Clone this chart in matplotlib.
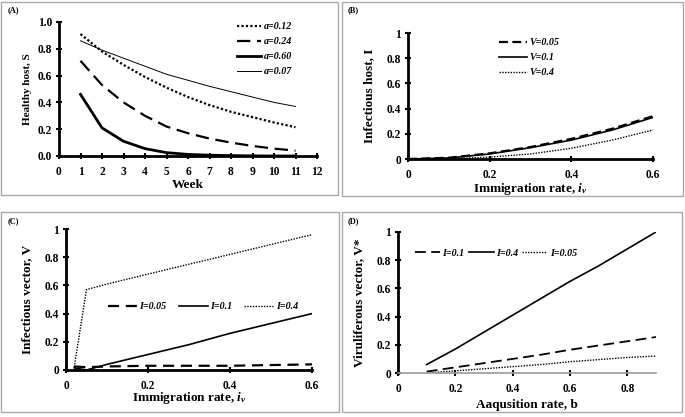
import matplotlib.pyplot as plt
from matplotlib.patches import Rectangle
import numpy as np

plt.rcParams['font.family'] = ['Liberation Serif', 'DejaVu Serif']
plt.rcParams['font.weight'] = 'bold'
plt.rcParams['mathtext.fontset'] = 'custom'
plt.rcParams['mathtext.rm'] = 'Liberation Serif:bold'
plt.rcParams['mathtext.it'] = 'Liberation Serif:bold:italic'

# (A) healthy host over weeks
weeks = [1, 2, 3, 4, 5, 6, 7, 8, 9, 10, 11]
s_a012 = [0.91, 0.78, 0.68, 0.59, 0.51, 0.44, 0.38, 0.33, 0.29, 0.25, 0.215]
s_a024 = [0.71, 0.53, 0.40, 0.30, 0.22, 0.17, 0.13, 0.10, 0.075, 0.055, 0.04]
s_a060 = [0.46, 0.21, 0.11, 0.055, 0.025, 0.012, 0.006, 0.003, 0.001, 0.0, 0.0]
s_a007 = [0.86, 0.79, 0.73, 0.67, 0.61, 0.565, 0.52, 0.48, 0.44, 0.40, 0.37]

# (B) infectious host vs immigration rate
iv_b = [0.0, 0.1, 0.2, 0.3, 0.4, 0.5, 0.6]
i_v005 = [0.0, 0.01, 0.045, 0.095, 0.16, 0.24, 0.34]
i_v01 = [0.0, 0.008, 0.04, 0.09, 0.15, 0.23, 0.33]
i_v04 = [0.0, 0.002, 0.015, 0.04, 0.085, 0.15, 0.23]

# (C) infectious vector vs immigration rate
iv_c = [0.02, 0.05, 0.1, 0.2, 0.3, 0.4, 0.5, 0.6]
v_i005 = [0.025, 0.02, 0.025, 0.03, 0.03, 0.03, 0.035, 0.04]
v_i01 = [0.015, 0.0, 0.04, 0.11, 0.18, 0.26, 0.33, 0.40]
v_i04 = [0.02, 0.57, 0.61, 0.68, 0.75, 0.82, 0.89, 0.96]

# (D) viruliferous vector vs acquisition rate
b_d = [0.1, 0.2, 0.3, 0.4, 0.5, 0.6, 0.7, 0.8, 0.9]
vs_i01 = [0.01, 0.04, 0.07, 0.10, 0.13, 0.165, 0.195, 0.225, 0.255]
vs_i04 = [0.06, 0.17, 0.29, 0.41, 0.53, 0.65, 0.76, 0.88, 1.0]
vs_i005 = [0.0, 0.015, 0.03, 0.045, 0.06, 0.08, 0.095, 0.11, 0.12]

W, H = 685, 417
fig = plt.figure(figsize=(W / 100, H / 100), dpi=100)


def px_axes(x0, y0, x1, y1):
    return fig.add_axes([x0 / W, 1 - y1 / H, (x1 - x0) / W, (y1 - y0) / H])


def frame(x0, y0, x1, y1):
    fig.patches.append(Rectangle((x0 / W, 1 - y1 / H), (x1 - x0) / W, (y1 - y0) / H,
                                 transform=fig.transFigure, fill=False,
                                 edgecolor='#aaaaaa', lw=1.0))


def style(ax):
    for s in ['top', 'right']:
        ax.spines[s].set_visible(False)
    for s in ['left', 'bottom']:
        ax.spines[s].set_linewidth(2.0)
    ax.tick_params(direction='inout', length=4, width=1.5, labelsize=8.3)
    ax.tick_params(axis='x', pad=5)
    ax.tick_params(axis='y', pad=3)
    for lab in ax.get_xticklabels() + ax.get_yticklabels():
        lab.set_fontweight('bold')


frame(1, 2, 338, 195)
frame(342, 2, 683, 196)
frame(1, 212, 339, 412)
frame(342, 212, 682, 412)

leg_font = {'style': 'italic', 'weight': 'bold', 'size': 7.2}
lab_size = 9.5
leg_kw = dict(frameon=False, prop=leg_font, borderpad=0, borderaxespad=0)

# panel A
ax = px_axes(59, 22, 317, 156)
ax.plot(weeks, s_a012, color='black', lw=1.6, ls=(0, (1, 1)), label='a=0.12')
ax.plot(weeks, s_a024, color='black', lw=1.6, ls=(0, (6, 3)), label='a=0.24')
ax.plot(weeks, s_a060, color='black', lw=2.0, label='a=0.60')
ax.plot(weeks, s_a007, color='black', lw=0.7, label='a=0.07')
ax.set_xlim(0, 12)
ax.set_ylim(0, 1.0)
ax.set_xticks(range(0, 13))
ax.set_yticks(np.arange(0, 1.01, 0.2))
ax.set_yticklabels(['%.1f' % v for v in np.arange(0, 1.01, 0.2)])
style(ax)
ax.set_xlabel('Week', fontsize=lab_size, fontweight='bold', labelpad=1)
ax.set_ylabel('Healthy host, S', fontsize=8, fontweight='bold', labelpad=4)
ax.legend(loc='upper left', bbox_to_anchor=(0.69, 1.0), handlelength=2.4,
          labelspacing=0.6, handletextpad=0.3, **leg_kw)
fig.text(8 / W, 1 - 10 / H, '(A)', fontsize=6, fontweight='bold', va='center')

# panel B
ax = px_axes(408, 33, 653, 159)
ax.plot(iv_b, i_v005, color='black', lw=1.6, ls=(0, (4, 2)), label='V=0.05')
ax.plot(iv_b, i_v01, color='black', lw=1.2, label='V=0.1')
ax.plot(iv_b, i_v04, color='black', lw=1.0, ls=(0, (1, 1)), label='V=0.4')
ax.set_xlim(0, 0.6)
ax.set_ylim(0, 1)
ax.set_xticks([0, 0.2, 0.4, 0.6])
ax.set_xticklabels(['0', '0.2', '0.4', '0.6'])
ax.set_yticks([0, 0.2, 0.4, 0.6, 0.8, 1])
ax.set_yticklabels(['0', '0.2', '0.4', '0.6', '0.8', '1'])
style(ax)
ax.set_xlabel('Immigration rate, $\\mathit{i}_v$', fontsize=lab_size, fontweight='bold', labelpad=0)
ax.set_ylabel('Infectious host, I', fontsize=lab_size, fontweight='bold', labelpad=8)
ax.legend(loc='upper left', bbox_to_anchor=(0.371, 0.96), handlelength=2.8,
          labelspacing=0.6, handletextpad=0.3, **leg_kw)
fig.text(348 / W, 1 - 10 / H, '(B)', fontsize=6, fontweight='bold', va='center')

# panel C
ax = px_axes(66, 229, 312, 370)
ax.plot(iv_c, v_i005, color='black', lw=1.6, ls=(0, (5, 3)), label='I=0.05')
ax.plot(iv_c, v_i01, color='black', lw=1.2, label='I=0.1')
ax.plot(iv_c, v_i04, color='black', lw=1.0, ls=(0, (1, 1)), label='I=0.4')
ax.set_xlim(0, 0.6)
ax.set_ylim(0, 1)
ax.set_xticks([0, 0.2, 0.4, 0.6])
ax.set_xticklabels(['0', '0.2', '0.4', '0.6'])
ax.set_yticks([0, 0.2, 0.4, 0.6, 0.8, 1])
ax.set_yticklabels(['0', '0.2', '0.4', '0.6', '0.8', '1'])
style(ax)
ax.set_xlabel('Immigration rate, $\\mathit{i}_v$', fontsize=lab_size, fontweight='bold', labelpad=-1)
ax.set_ylabel('Infectious vector, V', fontsize=lab_size, fontweight='bold', labelpad=8)
ax.legend(loc='center left', bbox_to_anchor=(0.171, 0.447), ncol=3,
          handlelength=2.9, columnspacing=1.2, handletextpad=0.25, **leg_kw)
fig.text(8 / W, 1 - 221 / H, '(C)', fontsize=6, fontweight='bold', va='center')

# panel D
ax = px_axes(398, 232, 656, 373)
ax.plot(b_d, vs_i01, color='black', lw=1.3, ls=(0, (6, 3)), label='I=0.1')
ax.plot(b_d, vs_i04, color='black', lw=1.2, label='I=0.4')
ax.plot(b_d, vs_i005, color='black', lw=1.0, ls=(0, (1, 1)), label='I=0.05')
ax.set_xlim(0, 0.9)
ax.set_ylim(0, 1)
ax.set_xticks([0, 0.2, 0.4, 0.6, 0.8])
ax.set_xticklabels(['0', '0.2', '0.4', '0.6', '0.8'])
ax.set_yticks([0, 0.2, 0.4, 0.6, 0.8, 1])
ax.set_yticklabels(['0', '0.2', '0.4', '0.6', '0.8', '1'])
style(ax)
ax.spines['bottom'].set_color('#999999')
ax.spines['bottom'].set_linewidth(1.2)
ax.set_xlabel('Aaqusition rate, b', fontsize=lab_size, fontweight='bold', labelpad=3)
ax.set_ylabel('Viruliferous vector, V*', fontsize=lab_size, fontweight='bold', labelpad=8)
ax.legend(loc='center left', bbox_to_anchor=(0.066, 0.851), ncol=3,
          handlelength=2.5, columnspacing=0.4, handletextpad=0.25, **leg_kw)
fig.text(348 / W, 1 - 221 / H, '(D)', fontsize=6, fontweight='bold', va='center')

fig.savefig('out.png', dpi=100)
